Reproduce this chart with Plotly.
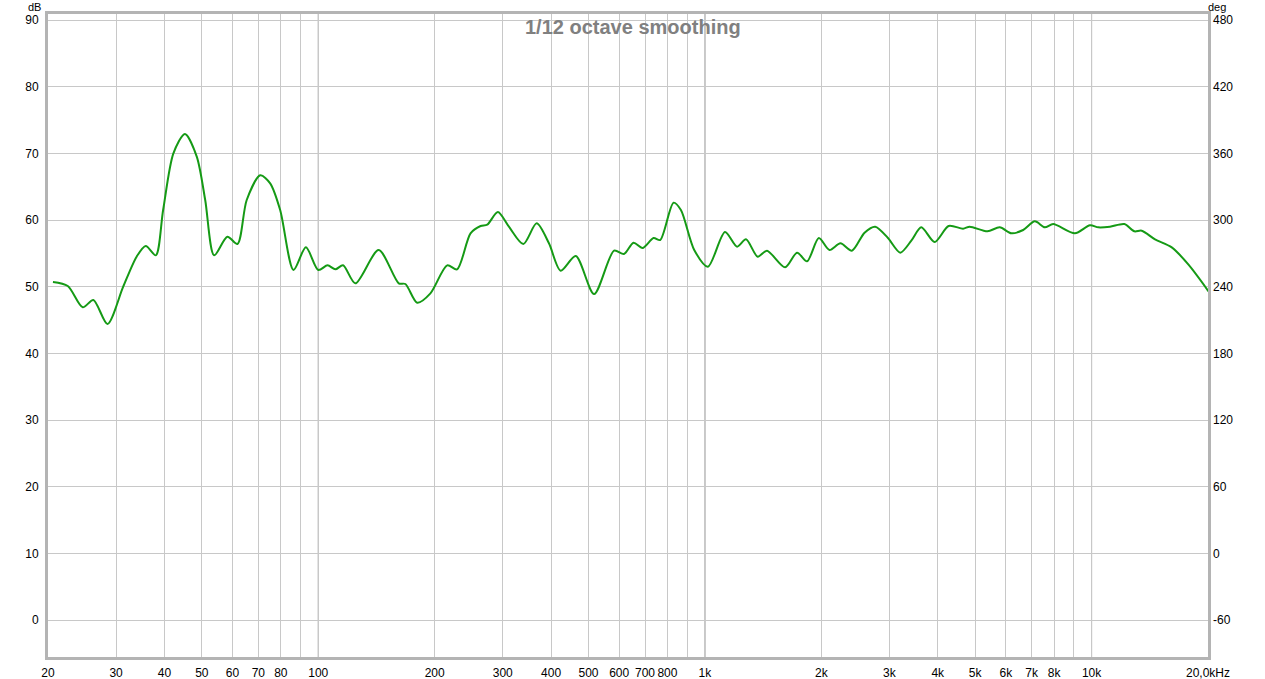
import plotly.graph_objects as go

freq_hz = [20.6, 22.5, 24.6, 26.2, 28.5, 31.3, 33.9, 35.8, 38.0, 39.7, 42.2, 45.2, 48.5, 51.0,
           53.8, 58.2, 61.8, 65.3, 70.8, 75.1, 79.7, 86.3, 92.9, 100, 105.7, 110.7, 115.9, 124.7,
           143.3, 161.5, 168, 180.2, 195, 215.5, 228.6, 247.6, 262.9, 273.5, 291.4, 311.2, 339.1,
           367.1, 395, 423.6, 463.3, 516.8, 582.1, 617.5, 653.5, 689.6, 736.5, 766, 829.5, 866.7,
           938.3, 1018, 1127, 1211, 1277, 1369, 1447, 1612, 1731, 1837, 1970, 2099, 2241, 2399,
           2587, 2757, 2974, 3201, 3418, 3627, 3927, 4269, 4652, 4838, 5378, 5786, 6203, 6653,
           7131, 7568, 7955, 9051, 9899, 10408, 11154, 12155, 12900, 13477, 14588, 16117, 17808,
           20063]
spl_db = [50.7, 50.1, 46.9, 48.0, 44.4, 50.0, 54.5, 56.1, 54.7, 61.5, 70.0, 72.9, 69.5, 63.0,
          54.7, 57.5, 56.4, 63.0, 66.7, 65.5, 61.5, 52.5, 55.9, 52.5, 53.2, 52.6, 53.2, 50.5,
          55.5, 50.5, 50.4, 47.6, 49.0, 53.2, 52.6, 58.0, 59.1, 59.3, 61.2, 59.0, 56.4,
          59.5, 56.5, 52.4, 54.6, 48.9, 55.4, 54.9, 56.6, 55.8, 57.3, 57.0, 62.6, 61.5,
          55.5, 53.0, 58.2, 56.0, 57.1, 54.5, 55.4, 52.9, 55.1, 53.8, 57.3, 55.5, 56.5, 55.4,
          58.1, 59.0, 57.3, 55.1, 56.9, 58.9, 56.7, 59.1, 58.7, 59.0, 58.3, 58.9, 58.0, 58.5,
          59.8, 58.9, 59.4, 58.0, 59.2, 58.9, 59.0, 59.4, 58.3, 58.4, 57.1, 55.9, 53.3,
          49.3]

x_tick_vals = [20, 30, 40, 50, 60, 70, 80, 90, 100, 200, 300, 400, 500, 600, 700, 800, 900,
               1000, 2000, 3000, 4000, 5000, 6000, 7000, 8000, 9000, 10000, 20000]
x_tick_text = ["20", "30", "40", "50", "60", "70", "80", "", "100", "200", "300", "400", "500",
               "600", "700", "800", "", "1k", "2k", "3k", "4k", "5k", "6k", "7k", "8k", "",
               "10k", "20,0kHz"]
decades = [100, 1000, 10000]
db_ticks = [0, 10, 20, 30, 40, 50, 60, 70, 80, 90]
deg_ticks = [-60, 0, 60, 120, 180, 240, 300, 360, 420, 480]

db_range = [-5.55, 90.9]
deg_range = [6 * v - 60 for v in db_range]

font_fam = "Liberation Sans, Arial, sans-serif"

fig = go.Figure()
fig.add_trace(go.Scatter(x=freq_hz, y=spl_db, mode="lines",
                         line=dict(color="#159a15", width=2, shape="spline", smoothing=0.8),
                         showlegend=False, hoverinfo="x+y"))
fig.add_trace(go.Scatter(x=[freq_hz[0]], y=[None], yaxis="y2", mode="lines",
                         showlegend=False, hoverinfo="skip"))

for d in decades:
    fig.add_shape(type="line", x0=d, x1=d, xref="x", y0=0, y1=1, yref="paper",
                  line=dict(color="#8a8a8a", width=1), layer="below")

plot_h = 679 - 14 - 22
plot_w = 1265 - 48 - 57
top_px = 1 + 14 / plot_h  # paper-y of the top pixel row

fig.update_layout(
    width=1265, height=679,
    margin=dict(l=48, r=57, t=14, b=22, autoexpand=False),
    paper_bgcolor="white", plot_bgcolor="white",
    font=dict(family=font_fam, size=12, color="#000000"),
    xaxis=dict(type="log", range=[1.30103, 4.30103], tickvals=x_tick_vals, ticktext=x_tick_text,
               showgrid=True, gridcolor="#c8c8c8", gridwidth=1, zeroline=False,
               showline=True, linecolor="#b4b4b4", linewidth=3, mirror=True,
               ticks="", tickfont=dict(size=12, color="#000000"), ticklabelstandoff=3,
               automargin=False),
    yaxis=dict(range=db_range, tickvals=db_ticks, showgrid=True, gridcolor="#c8c8c8",
               gridwidth=1, zeroline=False, showline=True, linecolor="#b4b4b4", linewidth=3,
               mirror=True, ticks="", tickfont=dict(size=12, color="#000000"),
               ticklabelstandoff=4, automargin=False),
    yaxis2=dict(range=deg_range, tickvals=deg_ticks, ticktext=[str(v) for v in deg_ticks],
                overlaying="y", side="right", automargin=False,
                showgrid=False, zeroline=False, ticks="", showline=False,
                tickfont=dict(size=12, color="#000000"), ticklabelstandoff=4),
    annotations=[
        dict(text="<b>1/12 octave smoothing</b>", x=0.5 + (632.5 - 628) / plot_w, xref="paper",
             y=1 - (27 - 14) / plot_h, yref="paper",
             showarrow=False, font=dict(size=20, color="#808080", family=font_fam),
             xanchor="center", yanchor="middle"),
        dict(text="dB", x=0, xref="paper", y=top_px, yref="paper", xanchor="right", yanchor="top",
             xshift=-6, showarrow=False, borderpad=0, font=dict(size=11, color="#000000")),
        dict(text="deg", x=1, xref="paper", y=top_px, yref="paper", xanchor="left", yanchor="top",
             xshift=-1, showarrow=False, borderpad=0, font=dict(size=11, color="#000000")),
    ],
)

fig.write_html("out.html", config={"displayModeBar": False},
               post_script="document.body.style.margin='0';document.body.style.overflow='hidden';")
